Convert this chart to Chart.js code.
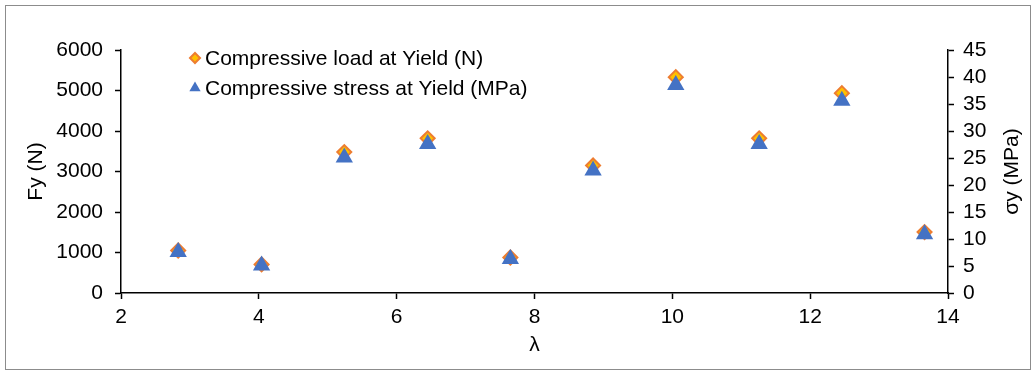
<!DOCTYPE html>
<html>
<head>
<meta charset="utf-8">
<script src="https://cdn.jsdelivr.net/npm/chart.js"></script>
<style>
  html, body { margin: 0; padding: 0; background: #fff; }
</style>
</head>
<body>
<canvas id="chart" width="1036" height="375"></canvas>
<script>
// slenderness ratio (x) and the two measured series
var lambdaValues = [2.83, 4.04, 5.24, 6.45, 7.65, 8.85, 10.05, 11.26, 12.46, 13.66];
var loadValues = [1050, 705, 3480, 3820, 876, 3150, 5330, 3820, 4935, 1505];   // Fy (N)
var stressValues = [7.6, 5.1, 25.1, 27.6, 6.3, 22.7, 38.5, 27.6, 35.6, 10.9];  // σy (MPa)
var seriesLabels = ['Compressive load at Yield (N)', 'Compressive stress at Yield (MPa)'];

var FONT = "'Liberation Sans', Arial, sans-serif";

function toPoints(ys) {
    return lambdaValues.map(function (x, i) { return { x: x, y: ys[i] }; });
}

function plainNumber(value) {
    return String(value);
}

// frame round the whole chart + legend inside the plot + right-hand title
var decorations = {
    id: 'decorations',
    beforeDraw: function (chart) {
        var ctx = chart.ctx;
        ctx.save();
        ctx.fillStyle = '#fff';
        ctx.fillRect(0, 0, chart.width, chart.height);
        ctx.strokeStyle = '#8c8c8c';
        ctx.lineWidth = 1;
        ctx.strokeRect(5.5, 5.5, 1025, 364);
        ctx.restore();
    },
    afterDraw: function (chart) {
        var ctx = chart.ctx;
        var area = chart.chartArea;
        ctx.save();
        // right axis title, reading bottom to top
        ctx.translate(1012, (area.top + area.bottom) / 2);
        ctx.rotate(-Math.PI / 2);
        ctx.font = '21px ' + FONT;
        ctx.fillStyle = '#000';
        ctx.textAlign = 'center';
        ctx.textBaseline = 'middle';
        ctx.fillText('σy (MPa)', 0, 0);
        ctx.restore();

        // legend
        var rows = [
            { ds: chart.data.datasets[0], y: 58, radius: 5 },
            { ds: chart.data.datasets[1], y: 88, radius: 6.5 }
        ];
        rows.forEach(function (r) {
            ctx.save();
            ctx.fillStyle = r.ds.backgroundColor;
            ctx.strokeStyle = r.ds.borderColor;
            ctx.lineWidth = r.ds.borderWidth;
            Chart.helpers.drawPoint(ctx, { pointStyle: r.ds.pointStyle, radius: r.radius, borderWidth: r.ds.borderWidth }, 195, r.y);
            ctx.font = '21px ' + FONT;
            ctx.fillStyle = '#000';
            ctx.textAlign = 'left';
            ctx.textBaseline = 'middle';
            ctx.fillText(r.ds.label, 205, r.y + 1);
            ctx.restore();
        });
    }
};

var ctx = document.getElementById('chart').getContext('2d');

var chart = new Chart(ctx, {
    type: 'scatter',
    data: {
        datasets: [
            {
                label: seriesLabels[0],
                data: toPoints(loadValues),
                yAxisID: 'y',
                pointStyle: 'rectRot',
                pointRadius: 7,
                backgroundColor: '#FFC000',
                borderColor: '#ED7D31',
                borderWidth: 2,
                order: 2
            },
            {
                label: seriesLabels[1],
                data: toPoints(stressValues),
                yAxisID: 'y1',
                pointStyle: 'triangle',
                pointRadius: 10,
                backgroundColor: '#4472C4',
                borderColor: '#4472C4',
                borderWidth: 0,
                order: 1
            }
        ]
    },
    plugins: [decorations],
    options: {
        responsive: false,
        animation: false,
        devicePixelRatio: 1,
        layout: { padding: { top: 50, left: 0, right: 0, bottom: 0 } },
        plugins: {
            legend: { display: false },
            tooltip: { enabled: false }
        },
        scales: {
            x: {
                type: 'linear',
                position: 'bottom',
                min: 2,
                max: 14,
                afterFit: function (scale) { scale.height = 82; },
                ticks: { stepSize: 2, autoSkip: false, maxRotation: 0, color: '#000', padding: 6, font: { family: FONT, size: 21 }, callback: plainNumber },
                grid: { drawOnChartArea: false, tickLength: 6, tickColor: '#000', tickWidth: 1.5 },
                border: { color: '#000', width: 1.5 },
                title: { display: true, text: 'λ', color: '#000', padding: { top: 0, bottom: 17 }, font: { family: FONT, size: 21 } }
            },
            y: {
                position: 'left',
                min: 0,
                max: 6000,
                afterFit: function (scale) { scale.width = 121; },
                ticks: { stepSize: 1000, autoSkip: false, color: '#000', padding: 12, font: { family: FONT, size: 21 }, callback: plainNumber },
                grid: { drawOnChartArea: false, tickLength: 6, tickColor: '#000', tickWidth: 1.5 },
                border: { color: '#000', width: 1.5 },
                title: { display: true, text: 'Fy (N)', color: '#000', padding: { top: 24, bottom: 0 }, font: { family: FONT, size: 21 } }
            },
            y1: {
                position: 'right',
                min: 0,
                max: 45,
                afterFit: function (scale) { scale.width = 88; },
                ticks: { stepSize: 5, autoSkip: false, color: '#000', padding: 9, font: { family: FONT, size: 21 }, callback: plainNumber },
                grid: { drawOnChartArea: false, tickLength: 6, tickColor: '#000', tickWidth: 1.5 },
                border: { color: '#000', width: 1.5 },
                title: { display: false }
            }
        }
    }
});
</script>
</body>
</html>
